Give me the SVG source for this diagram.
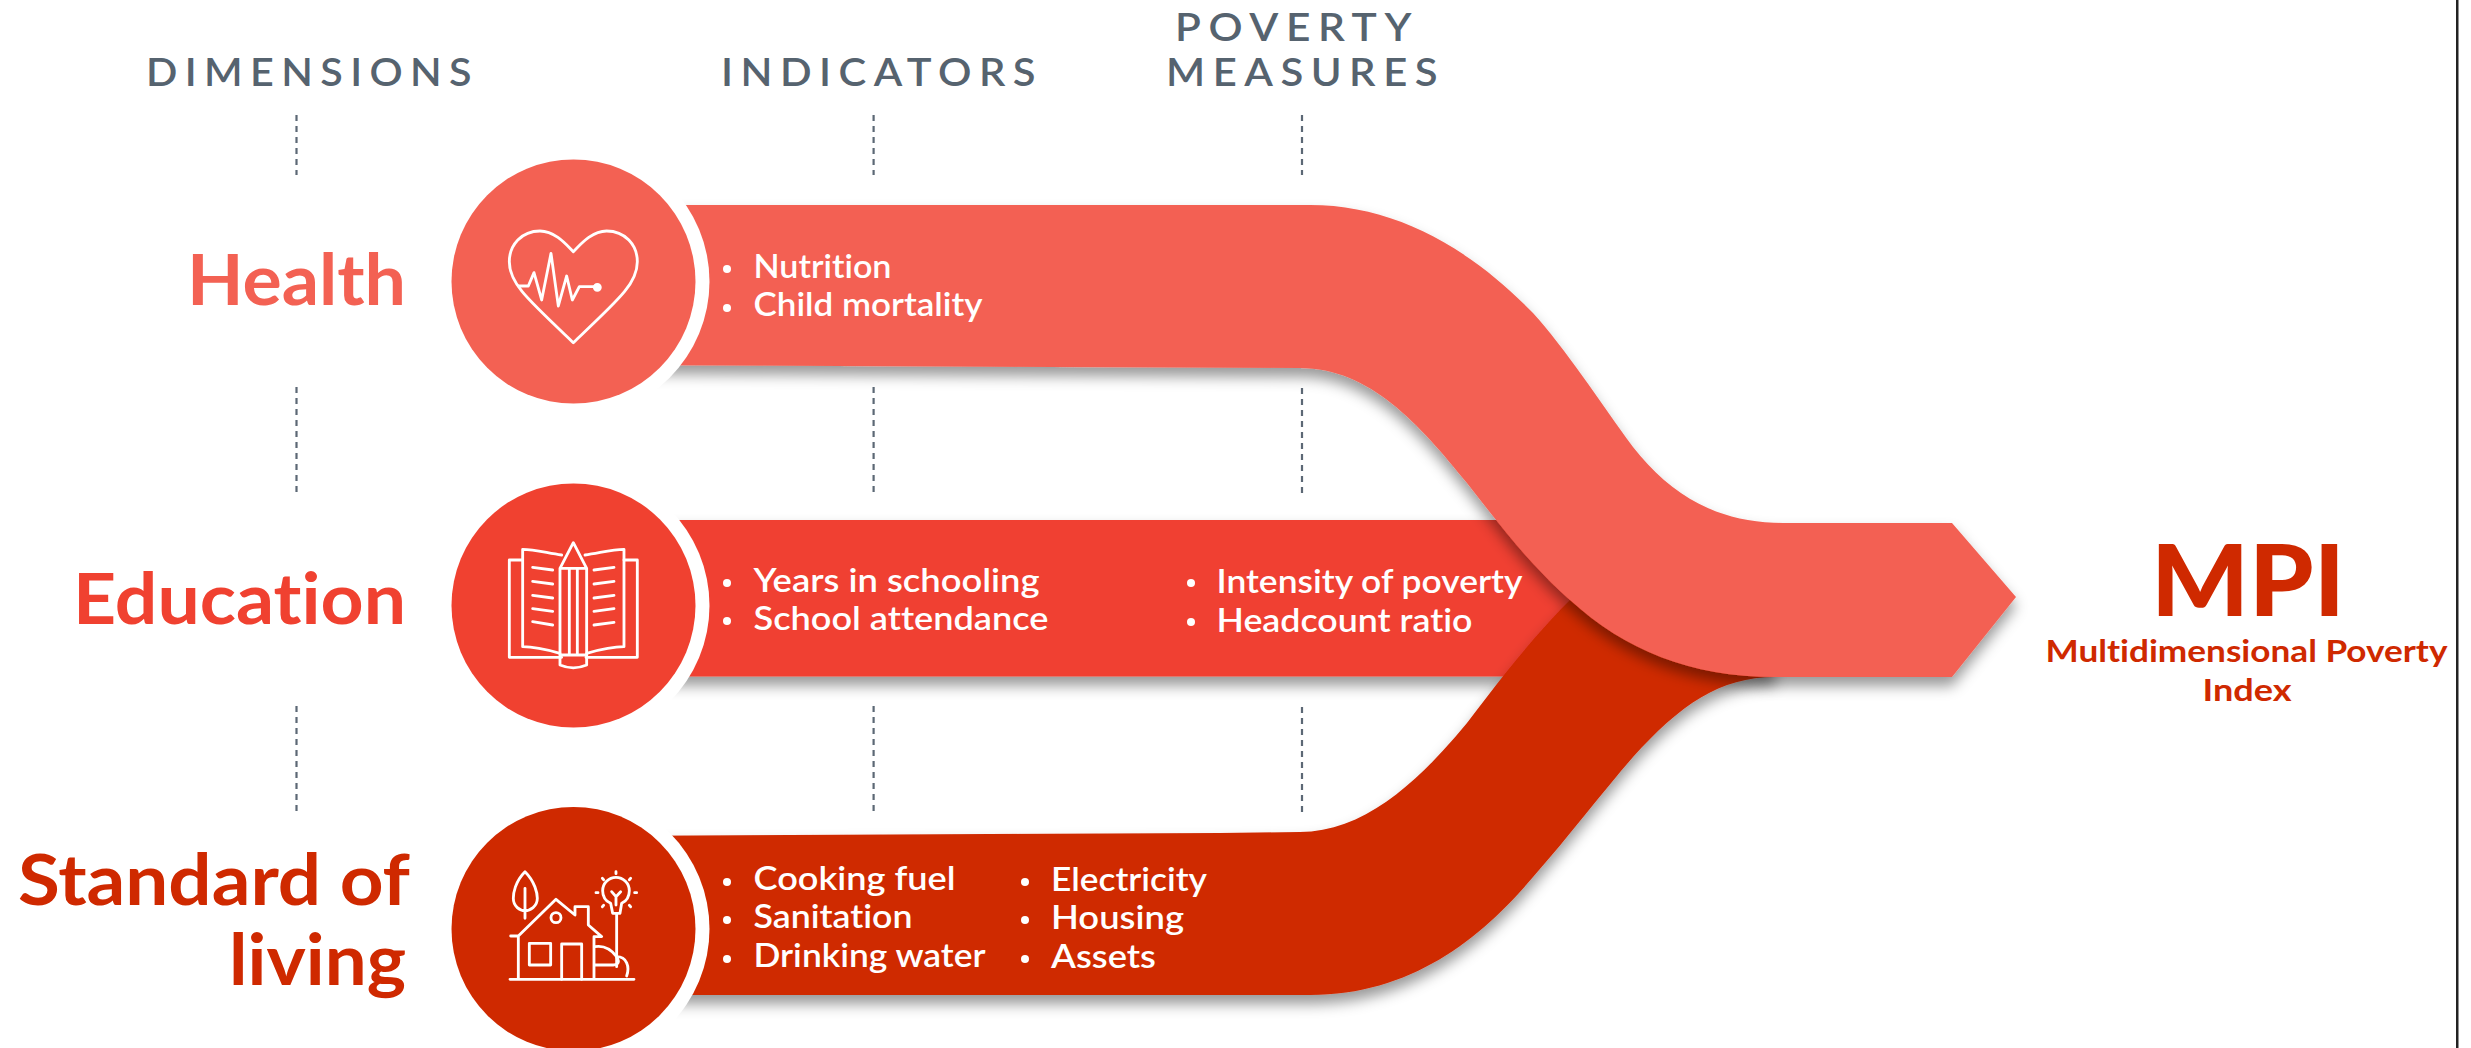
<svg xmlns="http://www.w3.org/2000/svg" width="2471" height="1048" viewBox="0 0 2471 1048">
<style>
text{font-family:Lato,"Noto Sans","Liberation Sans",sans-serif;font-variant-ligatures:none}
.hdr{font-size:39px;font-weight:600;fill:#56636f;letter-spacing:7px}
.dim{font-size:70px;font-weight:700;text-anchor:end}
.li{font-size:33px;font-weight:600;fill:#fff}
.b{fill:#fff}
.dash{stroke:#5c6875;stroke-width:2.2;stroke-dasharray:6 5;fill:none}
.ic{fill:none;stroke:#fff;stroke-width:8.500;stroke-linejoin:round;stroke-linecap:round}
.mpi{fill:#cf2900;font-weight:700;text-anchor:middle}
</style>
<defs>
<filter id="sh" x="-5%" y="-10%" width="110%" height="125%"><feDropShadow dx="0" dy="9" stdDeviation="7" flood-color="#000" flood-opacity=".4"/></filter>
</defs>
<rect width="2471" height="1048" fill="#fff"/>
<rect x="2456" y="0" width="2.500" height="1048" fill="#222"/>
<g id="headers">
<text class="hdr" x="146" y="86" textLength="333" lengthAdjust="spacingAndGlyphs">DIMENSIONS</text>
<text class="hdr" x="721" y="86" textLength="322" lengthAdjust="spacingAndGlyphs">INDICATORS</text>
<text class="hdr" x="1175" y="41" textLength="244" lengthAdjust="spacingAndGlyphs">POVERTY</text>
<text class="hdr" x="1166" y="86" textLength="279" lengthAdjust="spacingAndGlyphs">MEASURES</text>
</g>
<g id="connectors">
<path class="dash" d="M296.5 115V175M296.5 387V494M296.5 706V814M873.6 115V175M873.6 387V494M873.6 706V814M1302 115V175M1302 388V493M1302 707V814"/>
</g>
<g id="band-education"><path fill="#f04130" filter="url(#sh)" d="M600 520H1600V676.5H600Z"/></g>
<g id="band-living"><path fill="#cf2900" filter="url(#sh)" d="M600 836L1220 833L1300 832C1365 832 1420 780 1467 723C1500 680 1530 640 1570 600L1775 640V677C1720 677 1680 705 1633 757C1600 795 1570 835 1533 877C1480 940 1410 995 1310 995L600 995Z"/></g>
<g id="band-health"><path fill="#f36153" filter="url(#sh)" d="M600 205H1310C1395 205 1470 248 1533 313C1565 348 1600 402 1633 447C1672 497 1720 523 1783 523H1952L2016 597L1952 677H1775C1690 677 1625 650 1570 600C1530 565 1500 525 1467 483C1420 425 1370 368 1300 368L600 365Z"/></g>
<g id="node-health">
<circle cx="573.5" cy="281.5" r="136" fill="#fff"/>
<circle cx="573.5" cy="281.5" r="122" fill="#f36153"/>
<g transform="translate(480 200) scale(.3333)" class="ic">
<path d="M280 155C260 135 225 93 180 93C125 93 88 135 88 185C88 250 140 295 280 428C420 295 472 250 472 185C472 135 435 93 380 93C335 93 300 135 280 155Z"/>
<path d="M115 258H145L162 218L185 300L213 160L235 318L260 228L277 300L298 260H350"/>
<circle cx="352" cy="262" r="9" fill="#fff"/>
</g>
<text class="dim" x="406" y="305" fill="#f36153" textLength="219" lengthAdjust="spacingAndGlyphs">Health</text>
<g class="li"><text x="753.500" y="278" textLength="138" lengthAdjust="spacingAndGlyphs">Nutrition</text><text x="753.500" y="316" textLength="229" lengthAdjust="spacingAndGlyphs">Child mortality</text></g>
<circle class="b" cx="727" cy="269" r="4"/><circle class="b" cx="727" cy="308" r="4"/>
</g>
<g id="node-education">
<circle cx="573.5" cy="605.500" r="136" fill="#fff"/>
<circle cx="573.5" cy="605.500" r="122" fill="#f04130"/>
<g transform="translate(480 520) scale(.3333)" class="ic">
<path d="M245 105C205 100 165 88 128 88V380C165 380 205 390 240 400M315 105C355 100 395 88 432 88V380C395 380 355 390 320 400"/>
<path d="M128 120H88V412H245M432 120H472V412H318"/>
<path d="M240 145L280 68L320 145V405H240ZM240 145H320M268 148V402M292 148V402M240 405V435Q280 452 320 435V405"/>
<path d="M158 142L218 150M158 184L218 192M158 226L218 234M158 266L218 274M158 305L218 315M342 150L402 142M342 192L402 184M342 234L402 226M342 274L402 266M342 315L402 307"/>
</g>
<text class="dim" x="406" y="624" fill="#f04130" textLength="333" lengthAdjust="spacingAndGlyphs">Education</text>
<g class="li"><text x="753.500" y="591.500" textLength="286" lengthAdjust="spacingAndGlyphs">Years in schooling</text><text x="753.500" y="630" textLength="295" lengthAdjust="spacingAndGlyphs">School attendance</text><text x="1216.500" y="593" textLength="306" lengthAdjust="spacingAndGlyphs">Intensity of poverty</text><text x="1216.500" y="632" textLength="256" lengthAdjust="spacingAndGlyphs">Headcount ratio</text></g>
<circle class="b" cx="727" cy="583" r="4"/><circle class="b" cx="727" cy="621" r="4"/><circle class="b" cx="1191" cy="583" r="4"/><circle class="b" cx="1191" cy="622" r="4"/>
</g>
<g id="node-living">
<circle cx="573.5" cy="929" r="136" fill="#fff"/>
<circle cx="573.5" cy="929" r="122" fill="#cf2900"/>
<g transform="translate(480 850) scale(.3333)" class="ic">
<path d="M90 388H462M115 260V388M342 260V388M92 258H115L228 148L285 195V170H325V225L365 260H342"/>
<path d="M245 388V282H305V388M148 280H212V345H148Z"/>
<circle cx="228" cy="203" r="15"/>
<path d="M135 65C105 95 100 130 100 145C100 170 120 182 135 182C150 182 172 170 172 145C172 130 165 95 135 65ZM135 115V205"/>
<path d="M392 160C375 152 368 138 368 122C368 100 386 82 408 82C430 82 448 100 448 122C448 138 441 152 425 160L420 190H398ZM395 125L408 140L422 125M408 140V165M410 195V350"/>
<path d="M408 65V71M452 85L448 89M470 128H464M452 170L448 166M367 170L371 166M348 128H354M367 85L371 89"/>
<path d="M345 290C375 285 395 300 410 320C440 320 450 350 440 378M345 345H400C415 345 420 335 410 322"/>
</g>
<text class="dim" x="410" y="905" fill="#cf2900" textLength="392" lengthAdjust="spacingAndGlyphs">Standard of</text>
<text class="dim" x="406" y="985" fill="#cf2900" textLength="177" lengthAdjust="spacingAndGlyphs">living</text>
<g class="li"><text x="753.500" y="890" textLength="202" lengthAdjust="spacingAndGlyphs">Cooking fuel</text><text x="753.500" y="928" textLength="159" lengthAdjust="spacingAndGlyphs">Sanitation</text><text x="753.500" y="967" textLength="232" lengthAdjust="spacingAndGlyphs">Drinking water</text><text x="1051" y="891" textLength="156" lengthAdjust="spacingAndGlyphs">Electricity</text><text x="1051" y="929" textLength="133" lengthAdjust="spacingAndGlyphs">Housing</text><text x="1051" y="968" textLength="105" lengthAdjust="spacingAndGlyphs">Assets</text></g>
<circle class="b" cx="727" cy="882" r="4"/><circle class="b" cx="727" cy="920" r="4"/><circle class="b" cx="727" cy="959" r="4"/><circle class="b" cx="1025" cy="882" r="4"/><circle class="b" cx="1025" cy="920" r="4"/><circle class="b" cx="1025" cy="959" r="4"/>
</g>
<g id="node-mpi">
<text class="mpi" x="2248" y="616" font-size="99" style="font-weight:900" textLength="194" lengthAdjust="spacingAndGlyphs">MPI</text>
<text class="mpi" x="2246.500" y="662" font-size="31" textLength="402" lengthAdjust="spacingAndGlyphs">Multidimensional Poverty</text>
<text class="mpi" x="2247" y="700.500" font-size="31" textLength="89" lengthAdjust="spacingAndGlyphs">Index</text>
</g>
</svg>
